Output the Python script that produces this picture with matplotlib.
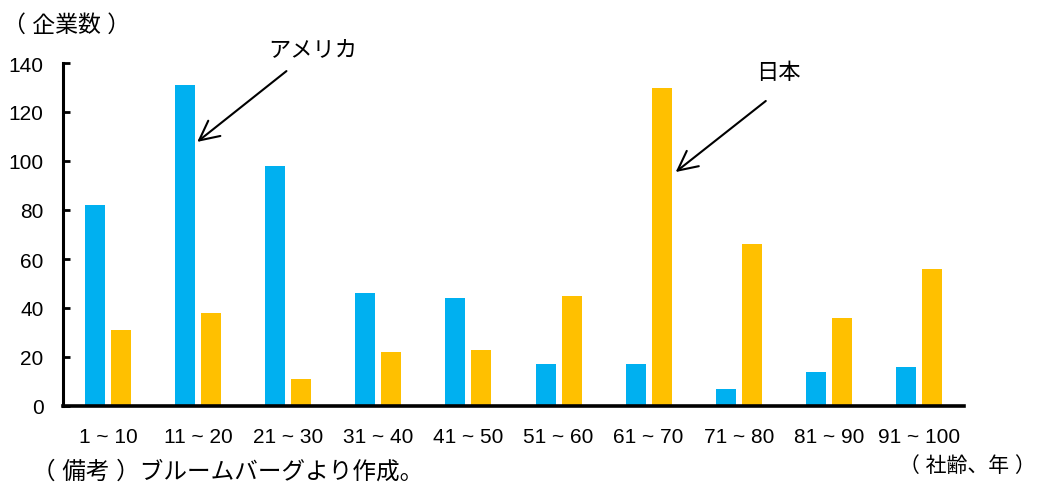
import matplotlib
matplotlib.use("Agg")
import matplotlib.pyplot as plt
import numpy as np

plt.rcParams['font.family'] = ['Liberation Sans', 'Noto Sans CJK JP']

categories = ["1 ~ 10", "11 ~ 20", "21 ~ 30", "31 ~ 40", "41 ~ 50",
              "51 ~ 60", "61 ~ 70", "71 ~ 80", "81 ~ 90", "91 ~ 100"]
usa = [82, 131, 98, 46, 44, 17, 17, 7, 14, 16]
japan = [31, 38, 11, 22, 23, 45, 130, 66, 36, 56]
y_ticks = [0, 20, 40, 60, 80, 100, 120, 140]

W, H = 1037, 485
fig = plt.figure(figsize=(W / 100, H / 100), dpi=100)
ax = fig.add_axes([63 / W, (H - 407) / H, 901 / W, 343 / H])

x = np.arange(len(categories))
bw = 0.222
off = 0.144
ax.bar(x - off, usa, width=bw, color="#00B0F0", zorder=2)
ax.bar(x + off, japan, width=bw, color="#FFC000", zorder=2)

ax.set_xlim(-0.5, len(categories) - 0.5)
ax.set_ylim(0, 140)
ax.set_yticks(y_ticks)
ax.set_xticks(x)
ax.set_xticklabels(categories)

for s in ("top", "right"):
    ax.spines[s].set_visible(False)
ax.spines["left"].set_linewidth(2.2)
ax.spines["bottom"].set_linewidth(2.6)
ax.tick_params(axis="y", direction="in", length=5, width=2, labelsize=15, pad=14)
ax.tick_params(axis="x", length=0, labelsize=15, pad=15)

arrow = dict(arrowstyle="->, head_length=0.7, head_width=0.35",
             lw=1.5, color="black", mutation_scale=20, shrinkA=0, shrinkB=0)

ax.annotate("", xy=(0.99, 107.8), xytext=(1.98, 136.7),
            arrowprops=arrow, annotation_clip=False)
ax.text(2.27, 144.9, "アメリカ", ha="center", va="center", fontsize=16,
        clip_on=False)

ax.annotate("", xy=(6.3, 95.5), xytext=(7.3, 124.5),
            arrowprops=arrow, annotation_clip=False)
ax.text(7.44, 136.3, "日本", ha="center", va="center", fontsize=16,
        clip_on=False)

fig.text(3 / W, 1 - 25 / H, "（ 企業数 ）", ha="left", va="center", fontsize=16.5)
fig.text(32 / W, 1 - 472 / H, "（ 備考 ）ブルームバーグより作成。", ha="left",
         va="center", fontsize=17)
fig.text(1036 / W, 1 - 466 / H, "（ 社齢、年 ）", ha="right", va="center",
         fontsize=15)

fig.savefig("out.png", dpi=100)
